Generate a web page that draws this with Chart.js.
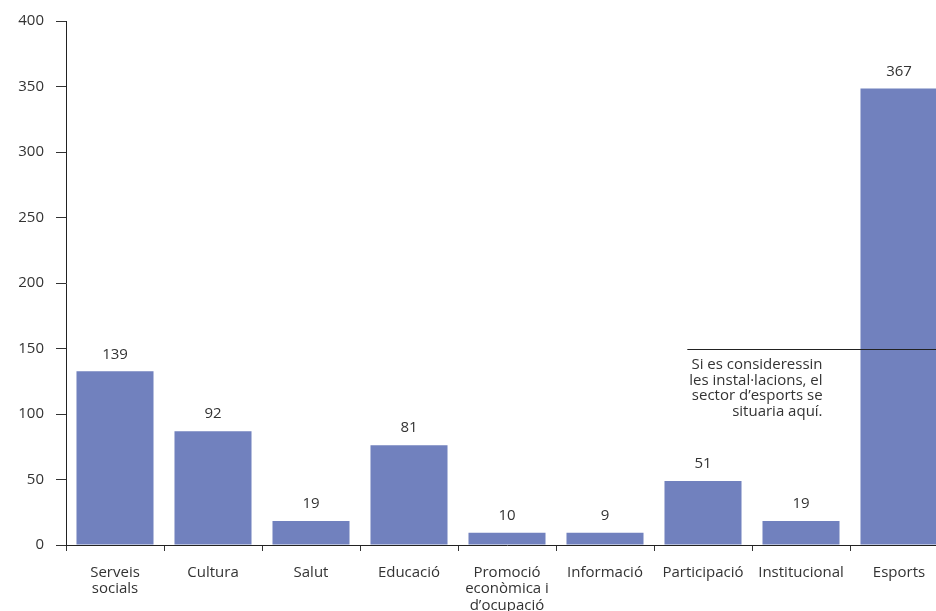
<!DOCTYPE html>
<html>
<head>
<meta charset="utf-8">
<script src="https://cdn.jsdelivr.net/npm/chart.js@4/dist/chart.umd.min.js"></script>
<style>
  html, body { margin: 0; padding: 0; overflow: hidden; background: #fff; }
  canvas { display: block; }
</style>
</head>
<body>
<canvas id="chart" width="948" height="611"></canvas>
<script>
// Categories (multi-line labels)
const categories = [
  ['Serveis', 'socials'],
  'Cultura',
  'Salut',
  'Educació',
  ['Promoció', 'econòmica i', 'd’ocupació'],
  'Informació',
  'Participació',
  'Institucional',
  'Esports'
];
// Bar heights as drawn in the picture
const barValues = [132.6, 86.9, 18.3, 76.2, 9.4, 9.4, 48.8, 18.3, 348.4];
// Numbers printed above the bars
const valueLabels = ['139', '92', '19', '81', '10', '9', '51', '19', '367'];
// Annotation: level where esports would be with facilities
const noteLevel = 150;
const noteLines = ['Si es consideressin', 'les instal·lacions, el', 'sector d’esports se', 'situaria aquí.'];

const FONT = '"Open Sans", Lato, sans-serif';
const TEXT = '#333333';

// Labels above bars + annotation line
const extras = {
  id: 'extras',
  afterDatasetsDraw(chart) {
    const ctx = chart.ctx;
    const meta = chart.getDatasetMeta(0);
    const x = chart.scales.x;
    const y = chart.scales.y;
    ctx.save();
    ctx.fillStyle = TEXT;
    ctx.font = '15px ' + FONT;
    ctx.textAlign = 'center';
    ctx.textBaseline = 'middle';
    meta.data.forEach((bar, i) => {
      ctx.fillText(valueLabels[i], bar.x, bar.y - 17);
    });

    // annotation line (category index positions, offset scale)
    const yy = Math.round(y.getPixelForValue(noteLevel)) + 0.5;
    const x0 = x.getPixelForValue(5.84);
    ctx.strokeStyle = '#222';
    ctx.lineWidth = 1;
    ctx.beginPath();
    ctx.moveTo(x0, yy);
    ctx.lineTo(chart.chartArea.right, yy);
    ctx.stroke();

    ctx.textAlign = 'right';
    ctx.textBaseline = 'middle';
    ctx.font = '15px ' + FONT;
    const xr = x.getPixelForValue(7.22);
    noteLines.forEach((t, i) => {
      ctx.fillText(t, xr, yy + 15 + i * 15.8);
    });
    ctx.restore();
  }
};

new Chart(document.getElementById('chart'), {
  type: 'bar',
  data: {
    labels: categories,
    datasets: [{
      data: barValues,
      backgroundColor: '#7181be',
      borderWidth: 0,
      categoryPercentage: 1,
      barPercentage: 0.786
    }]
  },
  options: {
    responsive: false,
    animation: false,
    layout: { padding: { top: 20, right: 0, bottom: 0, left: 0 } },
    plugins: {
      legend: { display: false },
      tooltip: { enabled: false }
    },
    scales: {
      x: {
        offset: true,
        grid: {
          display: true,
          offset: true,
          drawOnChartArea: false,
          drawTicks: true,
          tickLength: 6,
          color: '#333'
        },
        border: { display: true, color: '#222', width: 1 },
        ticks: {
          color: TEXT,
          font: { family: FONT, size: 15, lineHeight: 1.1 },
          padding: 13,
          maxRotation: 0,
          autoSkip: false
        },
        afterFit(scale) { scale.height = 66; }
      },
      y: {
        min: 0,
        max: 400,
        grid: {
          display: true,
          drawOnChartArea: false,
          drawTicks: true,
          tickLength: 10,
          color: '#333'
        },
        border: { display: true, color: '#222', width: 1 },
        ticks: {
          stepSize: 50,
          color: TEXT,
          font: { family: FONT, size: 15 },
          padding: 12
        },
        afterFit(scale) { scale.width = 66; }
      }
    }
  },
  plugins: [extras]
});
</script>
</body>
</html>
